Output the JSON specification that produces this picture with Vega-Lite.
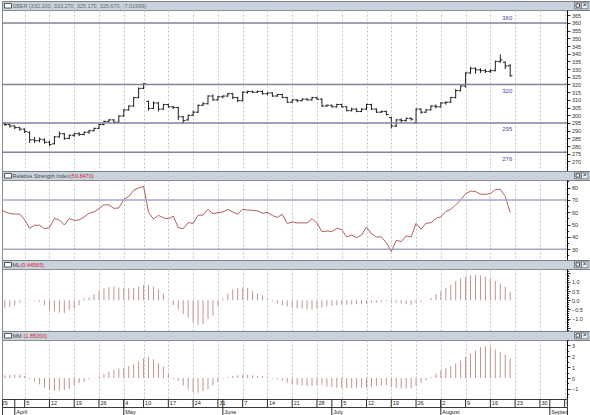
{
"$schema": "https://vega.github.io/schema/vega-lite/v6.json",
"padding": 0,
"background": "white",
"bounds": "flush",
"spacing": 0,
"resolve": {"scale": {"x": "independent", "y": "independent"}},
"config": {"font": "Liberation Sans", "view": {"stroke": null}, "axis": {"labelFont": "Liberation Sans", "labelOverlap": false}},
"datasets": {
"bars": [
{"i":0,"o":295,"h":296,"l":293.5,"c":294.5,"rsi":63,"ml":-0.42,"mm":0.22},
{"i":1,"o":294.5,"h":295.5,"l":293,"c":294,"rsi":60.5,"ml":-0.4,"mm":0.25},
{"i":2,"o":294,"h":294.5,"l":292,"c":293,"rsi":59,"ml":-0.36,"mm":0.28},
{"i":3,"o":293,"h":293.5,"l":291,"c":292,"rsi":58.6,"ml":-0.27,"mm":0.31},
{"i":4,"o":292,"h":292.5,"l":290,"c":291,"rsi":58.5,"ml":-0.13,"mm":0.31},
{"i":5,"o":291,"h":291.5,"l":288.5,"c":289.5,"rsi":54,"ml":-0.02,"mm":0.19},
{"i":6,"o":289,"h":289.5,"l":282,"c":284,"rsi":47,"ml":0.03,"mm":-0.1},
{"i":7,"o":284,"h":286,"l":282,"c":283.5,"rsi":49.5,"ml":-0.05,"mm":-0.34},
{"i":8,"o":283.5,"h":285.5,"l":282.5,"c":284.5,"rsi":49.5,"ml":-0.1,"mm":-0.59},
{"i":9,"o":284,"h":285,"l":281.5,"c":282.5,"rsi":46.7,"ml":-0.27,"mm":-0.9},
{"i":10,"o":282.5,"h":283.5,"l":280,"c":281,"rsi":47.5,"ml":-0.54,"mm":-1.11},
{"i":11,"o":281.5,"h":286.5,"l":281,"c":286,"rsi":55,"ml":-0.63,"mm":-1.2},
{"i":12,"o":286,"h":289.5,"l":285.5,"c":288,"rsi":53.8,"ml":-0.67,"mm":-1.14},
{"i":13,"o":288,"h":288.5,"l":284,"c":285,"rsi":49.7,"ml":-0.7,"mm":-1.11},
{"i":14,"o":285,"h":287.5,"l":284.5,"c":287,"rsi":54.8,"ml":-0.54,"mm":-1.0},
{"i":15,"o":287,"h":288.5,"l":286,"c":288,"rsi":53.5,"ml":-0.45,"mm":-0.65},
{"i":16,"o":288,"h":289,"l":286.5,"c":287.5,"rsi":53.8,"ml":-0.27,"mm":-0.46},
{"i":17,"o":287.5,"h":289.5,"l":287,"c":289,"rsi":56.2,"ml":0.1,"mm":-0.37},
{"i":18,"o":289,"h":290.5,"l":288,"c":290,"rsi":59.2,"ml":0.15,"mm":-0.12},
{"i":19,"o":290,"h":292,"l":289.5,"c":291.5,"rsi":60.3,"ml":0.33,"mm":0.03},
{"i":20,"o":291.5,"h":294.5,"l":291,"c":294,"rsi":63,"ml":0.5,"mm":0.12},
{"i":21,"o":294,"h":296.5,"l":293.5,"c":296,"rsi":66,"ml":0.65,"mm":0.4},
{"i":22,"o":296,"h":297.5,"l":295.5,"c":297,"rsi":66,"ml":0.72,"mm":0.59},
{"i":23,"o":297,"h":297.5,"l":295,"c":295.5,"rsi":63.2,"ml":0.74,"mm":0.74},
{"i":24,"o":295.5,"h":300,"l":295,"c":299.5,"rsi":63.5,"ml":0.69,"mm":0.86},
{"i":25,"o":299.5,"h":304,"l":299,"c":303.5,"rsi":70.5,"ml":0.67,"mm":0.96},
{"i":26,"o":303.5,"h":306.5,"l":303,"c":306,"rsi":72.8,"ml":0.65,"mm":1.11},
{"i":27,"o":306,"h":312,"l":305.5,"c":311.5,"rsi":77.8,"ml":0.69,"mm":1.27},
{"i":28,"o":311.5,"h":318,"l":311,"c":317.5,"rsi":79.7,"ml":0.74,"mm":1.51},
{"i":29,"o":317.5,"h":321,"l":317,"c":320.5,"rsi":81,"ml":0.83,"mm":1.82},
{"i":30,"o":309,"h":309.5,"l":303,"c":304.5,"rsi":60,"ml":0.83,"mm":1.94},
{"i":31,"o":304.5,"h":309,"l":304,"c":308,"rsi":54.5,"ml":0.74,"mm":1.73},
{"i":32,"o":308,"h":308.5,"l":302.5,"c":304,"rsi":57.5,"ml":0.6,"mm":1.36},
{"i":33,"o":304,"h":307.5,"l":303.5,"c":307,"rsi":55.5,"ml":0.36,"mm":1.05},
{"i":34,"o":307,"h":307.5,"l":305,"c":305.5,"rsi":54.8,"ml":0.03,"mm":0.43},
{"i":35,"o":305.5,"h":306,"l":304,"c":305,"rsi":56.8,"ml":-0.27,"mm":-0.12},
{"i":36,"o":305,"h":305.5,"l":297,"c":299,"rsi":47.6,"ml":-0.49,"mm":-0.28},
{"i":37,"o":299,"h":299.5,"l":294.5,"c":296.5,"rsi":46.7,"ml":-0.76,"mm":-0.68},
{"i":38,"o":297,"h":300.5,"l":296.5,"c":300,"rsi":51.6,"ml":-0.94,"mm":-1.05},
{"i":39,"o":300,"h":303,"l":299.5,"c":302,"rsi":51,"ml":-1.21,"mm":-1.3},
{"i":40,"o":302,"h":307,"l":301.5,"c":306.5,"rsi":57.6,"ml":-1.34,"mm":-1.36},
{"i":41,"o":306.5,"h":308.5,"l":306,"c":307.5,"rsi":57.8,"ml":-1.3,"mm":-1.2},
{"i":42,"o":307.5,"h":313,"l":307,"c":312.5,"rsi":62.4,"ml":-1.03,"mm":-1.05},
{"i":43,"o":312.5,"h":313.5,"l":309.5,"c":310,"rsi":58.9,"ml":-0.82,"mm":-0.68},
{"i":44,"o":310,"h":312.5,"l":309.5,"c":312,"rsi":59.7,"ml":-0.31,"mm":-0.37},
{"i":45,"o":312,"h":313,"l":311,"c":312.5,"rsi":60.3,"ml":0.09,"mm":-0.06},
{"i":46,"o":312.5,"h":314.5,"l":312,"c":314,"rsi":62.4,"ml":0.36,"mm":0.09},
{"i":47,"o":314,"h":314.5,"l":310.5,"c":311.5,"rsi":60.3,"ml":0.6,"mm":0.19},
{"i":48,"o":311.5,"h":312,"l":308.5,"c":309.5,"rsi":58.4,"ml":0.67,"mm":0.25},
{"i":49,"o":309.5,"h":315.5,"l":309,"c":315,"rsi":62.4,"ml":0.69,"mm":0.28},
{"i":50,"o":315,"h":316,"l":314,"c":315.5,"rsi":61.8,"ml":0.67,"mm":0.31},
{"i":51,"o":315.5,"h":316,"l":314.5,"c":315,"rsi":61.6,"ml":0.5,"mm":0.25},
{"i":52,"o":315,"h":316,"l":314.5,"c":315.5,"rsi":61.2,"ml":0.36,"mm":0.19},
{"i":53,"o":315.5,"h":316,"l":313.5,"c":314,"rsi":59.2,"ml":0.27,"mm":0.19},
{"i":54,"o":314,"h":315,"l":313,"c":314.5,"rsi":60,"ml":0.1,"mm":0.09},
{"i":55,"o":314.5,"h":315,"l":312,"c":312.5,"rsi":57.4,"ml":-0.05,"mm":-0.04},
{"i":56,"o":312.5,"h":314,"l":312,"c":313.5,"rsi":55.8,"ml":-0.18,"mm":-0.12},
{"i":57,"o":313.5,"h":314,"l":311,"c":311.5,"rsi":58.4,"ml":-0.27,"mm":-0.28},
{"i":58,"o":311.5,"h":312,"l":308,"c":308.5,"rsi":50.8,"ml":-0.34,"mm":-0.43},
{"i":59,"o":308.5,"h":310.5,"l":308,"c":310,"rsi":52.2,"ml":-0.4,"mm":-0.58},
{"i":60,"o":310,"h":310.5,"l":308.5,"c":309.5,"rsi":51.4,"ml":-0.43,"mm":-0.64},
{"i":61,"o":309.5,"h":311,"l":309,"c":310.5,"rsi":51.4,"ml":-0.45,"mm":-0.7},
{"i":62,"o":310.5,"h":311,"l":309.5,"c":310,"rsi":51.4,"ml":-0.49,"mm":-0.73},
{"i":63,"o":310,"h":312,"l":309.5,"c":311.5,"rsi":54.8,"ml":-0.52,"mm":-0.73},
{"i":64,"o":311.5,"h":312,"l":310,"c":310.5,"rsi":51.2,"ml":-0.45,"mm":-0.67},
{"i":65,"o":310.5,"h":311,"l":305.5,"c":306,"rsi":44.3,"ml":-0.4,"mm":-0.64},
{"i":66,"o":306,"h":307,"l":305.5,"c":306.5,"rsi":44.8,"ml":-0.34,"mm":-0.8},
{"i":67,"o":306.5,"h":307,"l":305,"c":305.5,"rsi":44.4,"ml":-0.31,"mm":-0.83},
{"i":68,"o":305.5,"h":307.5,"l":305,"c":307,"rsi":47,"ml":-0.27,"mm":-0.89},
{"i":69,"o":307,"h":307.5,"l":305,"c":305.5,"rsi":46,"ml":-0.25,"mm":-0.95},
{"i":70,"o":305.5,"h":306,"l":302.5,"c":303,"rsi":40,"ml":-0.25,"mm":-0.95},
{"i":71,"o":303,"h":305,"l":302.5,"c":304,"rsi":41.6,"ml":-0.22,"mm":-0.92},
{"i":72,"o":304,"h":304.5,"l":302,"c":302.5,"rsi":39.4,"ml":-0.22,"mm":-0.89},
{"i":73,"o":302.5,"h":304.5,"l":302,"c":304,"rsi":41.6,"ml":-0.22,"mm":-0.89},
{"i":74,"o":304,"h":307.5,"l":303.5,"c":307,"rsi":48,"ml":-0.18,"mm":-0.89},
{"i":75,"o":307,"h":307.5,"l":303.5,"c":304,"rsi":42.7,"ml":-0.13,"mm":-0.83},
{"i":76,"o":304,"h":304.5,"l":301.5,"c":302,"rsi":40,"ml":-0.13,"mm":-0.73},
{"i":77,"o":302,"h":303,"l":301.5,"c":302.5,"rsi":40,"ml":-0.09,"mm":-0.67},
{"i":78,"o":302.5,"h":303,"l":300,"c":300.5,"rsi":35.4,"ml":-0.05,"mm":-0.67},
{"i":79,"o":298.5,"h":299,"l":291.5,"c":293,"rsi":28.1,"ml":-0.09,"mm":-0.83},
{"i":80,"o":293,"h":297.5,"l":292.5,"c":297,"rsi":37.3,"ml":-0.13,"mm":-0.89},
{"i":81,"o":297,"h":298,"l":295.5,"c":296.5,"rsi":36.2,"ml":-0.18,"mm":-0.95},
{"i":82,"o":296.5,"h":298.5,"l":296,"c":298,"rsi":40.8,"ml":-0.22,"mm":-0.98},
{"i":83,"o":298,"h":298.5,"l":296.5,"c":297.5,"rsi":40,"ml":-0.25,"mm":-0.95},
{"i":84,"o":295,"h":304.5,"l":294.5,"c":304,"rsi":51,"ml":-0.16,"mm":-0.73},
{"i":85,"o":304,"h":304.5,"l":301,"c":302,"rsi":46.2,"ml":-0.09,"mm":-0.46},
{"i":86,"o":302,"h":304,"l":301.5,"c":303.5,"rsi":51,"ml":0.02,"mm":-0.21},
{"i":87,"o":303.5,"h":306.5,"l":303,"c":306,"rsi":51.6,"ml":0.13,"mm":0.09},
{"i":88,"o":306,"h":307,"l":304.5,"c":305.5,"rsi":55,"ml":0.33,"mm":0.4},
{"i":89,"o":305.5,"h":308.5,"l":305,"c":308,"rsi":56.4,"ml":0.5,"mm":0.73},
{"i":90,"o":308,"h":309,"l":307,"c":308.5,"rsi":60.6,"ml":0.69,"mm":0.89},
{"i":91,"o":308.5,"h":312,"l":308,"c":311.5,"rsi":62.4,"ml":0.83,"mm":1.1},
{"i":92,"o":311.5,"h":317,"l":311,"c":316,"rsi":66,"ml":1.05,"mm":1.35},
{"i":93,"o":316,"h":319.5,"l":315.5,"c":319,"rsi":70,"ml":1.2,"mm":1.62},
{"i":94,"o":319,"h":328,"l":318,"c":327.5,"rsi":75,"ml":1.29,"mm":1.96},
{"i":95,"o":327.5,"h":331.5,"l":327,"c":330.5,"rsi":77.2,"ml":1.36,"mm":2.26},
{"i":96,"o":330.5,"h":331,"l":327,"c":329.5,"rsi":76.9,"ml":1.38,"mm":2.54},
{"i":97,"o":329.5,"h":330.5,"l":327.5,"c":329,"rsi":74.7,"ml":1.36,"mm":2.84},
{"i":98,"o":329,"h":330,"l":327.5,"c":328.5,"rsi":74.6,"ml":1.29,"mm":2.94},
{"i":99,"o":328.5,"h":330,"l":327.5,"c":329,"rsi":75.2,"ml":1.18,"mm":2.84},
{"i":100,"o":329,"h":335.5,"l":328.5,"c":335,"rsi":78.5,"ml":1.05,"mm":2.63},
{"i":101,"o":335,"h":339.5,"l":334,"c":336,"rsi":78.7,"ml":0.9,"mm":2.42},
{"i":102,"o":334.5,"h":335,"l":330,"c":332,"rsi":73,"ml":0.74,"mm":2.17},
{"i":103,"o":332.2,"h":333.27,"l":325.17,"c":325.67,"rsi":59.85,"ml":0.45,"mm":1.8}
],
"weeks": [
{"i":0,"d":"29"},{"i":5,"d":"5"},{"i":10,"d":"12"},{"i":15,"d":"19"},{"i":20,"d":"26"},{"i":25,"d":"4"},{"i":29,"d":"10"},{"i":34,"d":"17"},{"i":39,"d":"24"},{"i":44,"d":"31"},{"i":49,"d":"7"},{"i":54,"d":"14"},{"i":59,"d":"21"},{"i":64,"d":"28"},{"i":69,"d":"5"},{"i":74,"d":"12"},{"i":79,"d":"19"},{"i":84,"d":"26"},{"i":89,"d":"2"},{"i":94,"d":"9"},{"i":99,"d":"16"},{"i":104,"d":"23"},{"i":109,"d":"30"},{"i":114,"d":"6"}
],
"months": [
{"i":3,"m":"April"},{"i":25,"m":"May"},{"i":45,"m":"June"},{"i":67,"m":"July"},{"i":89,"m":"August"},{"i":111,"m":"September"}
],
"plevels": [{"v":360},{"v":320},{"v":295},{"v":276}],
"rlevels": [{"v":70},{"v":30}]
},
"vconcat": [
{
"width": 590, "height": 9,
"view": {"fill": "#c9d3de", "stroke": "#7b828a"},
"data": {"values": [{"name": "SBER (332.200, 333.270, 325.170, 325.670, -7.01999)"}]},
"layer": [
{"mark": {"type": "rect", "fill": "white", "stroke": "#333", "strokeWidth": 0.8},
 "encoding": {"x": {"datum": 2.5, "scale": {"domain": [0, 590], "nice": false, "zero": false}, "axis": null}, "x2": {"datum": 9.5}, "y": {"datum": 2, "scale": {"domain": [0, 9], "nice": false, "zero": false}, "axis": null}, "y2": {"datum": 6.5}}},
{"mark": {"type": "text", "align": "left", "baseline": "middle", "fontSize": 5.5, "color": "#6b6b6b"},
 "encoding": {"x": {"datum": 10.5}, "y": {"datum": 4.5}, "text": {"field": "name"}}},
{"mark": {"type": "rect", "fill": "#e4e9ee", "stroke": "#5a6068", "strokeWidth": 0.7},
 "encoding": {"x": {"datum": 572.5}, "x2": {"datum": 579}, "y": {"datum": 1.2}, "y2": {"datum": 7.8}}},
{"mark": {"type": "rect", "fill": "#e4e9ee", "stroke": "#5a6068", "strokeWidth": 0.7},
 "encoding": {"x": {"datum": 579.5}, "x2": {"datum": 586}, "y": {"datum": 1.2}, "y2": {"datum": 7.8}}},
{"mark": {"type": "rect", "fill": "white", "stroke": "#222", "strokeWidth": 0.8},
 "encoding": {"x": {"datum": 574}, "x2": {"datum": 577.5}, "y": {"datum": 2.8}, "y2": {"datum": 6.2}}},
{"mark": {"type": "text", "align": "center", "baseline": "middle", "fontSize": 7, "color": "#222"},
 "encoding": {"x": {"datum": 582.75}, "y": {"datum": 4.6}, "text": {"value": "×"}}}
]
},
{
"width": 565, "height": 161,
"view": {"stroke": "#8d8d8d"},
"resolve": {"axis": {"x": "independent", "y": "independent"}},
"layer": [
{"data": {"name": "bars"},
 "mark": {"type": "rule", "color": "#1e1e1e", "strokeWidth": 1, "clip": true},
 "encoding": {
  "x": {"field": "i", "type": "quantitative", "scale": {"domain": [0.42, 114.47], "nice": false, "zero": false},
        "axis": {"orient": "bottom", "values": [5,10,15,20,25,29,34,39,44,49,54,59,64,69,74,79,84,89,94,99,104,109,114], "grid": true, "gridDash": [2,2], "gridColor": "#c6c6c6", "gridWidth": 1, "labels": false, "ticks": false, "domain": false, "title": null}},
  "y": {"field": "l", "type": "quantitative", "scale": {"domain": [263.8, 368.4], "nice": false, "zero": false},
        "axis": {"orient": "right", "values": [270,275,280,285,290,295,300,305,310,315,320,325,330,335,340,345,350,355,360,365], "title": null, "grid": false, "domain": true, "domainColor": "#000", "tickSize": 3, "tickColor": "#333", "labelFontSize": 5.5, "labelColor": "#333", "labelPadding": 1.5, "labelOverlap": false, "labelFlush": false}},
  "y2": {"field": "h"}}},
{"data": {"name": "bars"},
 "mark": {"type": "rule", "color": "#1e1e1e", "strokeWidth": 1, "xOffset": -2.2, "x2Offset": 0, "clip": true},
 "encoding": {"x": {"field": "i", "type": "quantitative", "axis": null}, "x2": {"field": "i"}, "y": {"field": "o", "type": "quantitative", "axis": null}}},
{"data": {"name": "bars"},
 "mark": {"type": "rule", "color": "#1e1e1e", "strokeWidth": 1, "xOffset": 0, "x2Offset": 2.2, "clip": true},
 "encoding": {"x": {"field": "i", "type": "quantitative", "axis": null}, "x2": {"field": "i"}, "y": {"field": "c", "type": "quantitative", "axis": null}}},
{"data": {"name": "plevels"},
 "mark": {"type": "rule", "color": "#8080a2", "strokeWidth": 1.4},
 "encoding": {"y": {"field": "v", "type": "quantitative", "axis": null}}},
{"data": {"name": "plevels"},
 "transform": [{"filter": "datum.v == 360"}],
 "mark": {"type": "text", "baseline": "bottom", "align": "center", "dy": -2, "fontSize": 6, "color": "#4a4a96"},
 "encoding": {"x": {"datum": 102.4, "axis": null}, "y": {"field": "v", "type": "quantitative", "axis": null}, "text": {"field": "v", "type": "quantitative"}}},
{"data": {"name": "plevels"},
 "transform": [{"filter": "datum.v != 360"}],
 "mark": {"type": "text", "baseline": "top", "align": "center", "dy": 3.5, "fontSize": 6, "color": "#4a4a96"},
 "encoding": {"x": {"datum": 102.4, "axis": null}, "y": {"field": "v", "type": "quantitative", "axis": null}, "text": {"field": "v", "type": "quantitative"}}}
]
},
{
"width": 590, "height": 9,
"view": {"fill": "#c9d3de", "stroke": "#7b828a"},
"data": {"values": [{"name": "Relative Strength Index", "val": "(59.8470)"}]},
"layer": [
{"mark": {"type": "rect", "fill": "white", "stroke": "#333", "strokeWidth": 0.8},
 "encoding": {"x": {"datum": 2.5, "scale": {"domain": [0, 590], "nice": false, "zero": false}, "axis": null}, "x2": {"datum": 9.5}, "y": {"datum": 2, "scale": {"domain": [0, 9], "nice": false, "zero": false}, "axis": null}, "y2": {"datum": 6.5}}},
{"mark": {"type": "text", "align": "left", "baseline": "middle", "fontSize": 5.5, "color": "#4a4a4a"},
 "encoding": {"x": {"datum": 10.5}, "y": {"datum": 4.5}, "text": {"field": "name"}}},
{"mark": {"type": "text", "align": "left", "baseline": "middle", "fontSize": 5.5, "color": "#d02a2a"},
 "encoding": {"x": {"datum": 68}, "y": {"datum": 4.5}, "text": {"field": "val"}}},
{"mark": {"type": "rect", "fill": "#e4e9ee", "stroke": "#5a6068", "strokeWidth": 0.7},
 "encoding": {"x": {"datum": 572.5}, "x2": {"datum": 579}, "y": {"datum": 1.2}, "y2": {"datum": 7.8}}},
{"mark": {"type": "rect", "fill": "#e4e9ee", "stroke": "#5a6068", "strokeWidth": 0.7},
 "encoding": {"x": {"datum": 579.5}, "x2": {"datum": 586}, "y": {"datum": 1.2}, "y2": {"datum": 7.8}}},
{"mark": {"type": "rect", "fill": "white", "stroke": "#222", "strokeWidth": 0.8},
 "encoding": {"x": {"datum": 574}, "x2": {"datum": 577.5}, "y": {"datum": 2.8}, "y2": {"datum": 6.2}}},
{"mark": {"type": "text", "align": "center", "baseline": "middle", "fontSize": 7, "color": "#222"},
 "encoding": {"x": {"datum": 582.75}, "y": {"datum": 4.6}, "text": {"value": "×"}}}
]
},
{
"width": 565, "height": 80,
"view": {"stroke": "#8d8d8d"},
"resolve": {"axis": {"x": "independent", "y": "independent"}},
"layer": [
{"data": {"name": "bars"},
 "mark": {"type": "line", "color": "#b35c5c", "strokeWidth": 1, "clip": true},
 "encoding": {
  "x": {"field": "i", "type": "quantitative", "scale": {"domain": [0.42, 114.47], "nice": false, "zero": false},
        "axis": {"orient": "bottom", "values": [5,10,15,20,25,29,34,39,44,49,54,59,64,69,74,79,84,89,94,99,104,109,114], "grid": true, "gridDash": [2,2], "gridColor": "#c6c6c6", "gridWidth": 1, "labels": false, "ticks": false, "domain": false, "title": null}},
  "y": {"field": "rsi", "type": "quantitative", "scale": {"domain": [21.3, 86.2], "nice": false, "zero": false},
        "axis": {"orient": "right", "values": [25,30,35,40,45,50,55,60,65,70,75,80,85], "labelExpr": "datum.value % 10 == 0 ? format(datum.value, 'd') : ''", "title": null, "grid": false, "domain": true, "domainColor": "#000", "tickSize": {"condition": {"test": "datum.value % 10 == 0", "value": 3}, "value": 1.6}, "tickColor": "#333", "labelFontSize": 5.5, "labelColor": "#333", "labelPadding": 1.5, "labelOverlap": false, "labelFlush": false}}}},
{"data": {"name": "rlevels"},
 "mark": {"type": "rule", "color": "#a6a6c6", "strokeWidth": 1.5},
 "encoding": {"y": {"field": "v", "type": "quantitative", "axis": null}}}
]
},
{
"width": 590, "height": 9,
"view": {"fill": "#c9d3de", "stroke": "#7b828a"},
"data": {"values": [{"name": "ML", "val": "(0.44565)"}]},
"layer": [
{"mark": {"type": "rect", "fill": "white", "stroke": "#333", "strokeWidth": 0.8},
 "encoding": {"x": {"datum": 2.5, "scale": {"domain": [0, 590], "nice": false, "zero": false}, "axis": null}, "x2": {"datum": 9.5}, "y": {"datum": 2, "scale": {"domain": [0, 9], "nice": false, "zero": false}, "axis": null}, "y2": {"datum": 6.5}}},
{"mark": {"type": "text", "align": "left", "baseline": "middle", "fontSize": 5.5, "color": "#4a4a4a"},
 "encoding": {"x": {"datum": 10.5}, "y": {"datum": 4.5}, "text": {"field": "name"}}},
{"mark": {"type": "text", "align": "left", "baseline": "middle", "fontSize": 5.5, "color": "#d02a2a"},
 "encoding": {"x": {"datum": 18.5}, "y": {"datum": 4.5}, "text": {"field": "val"}}},
{"mark": {"type": "rect", "fill": "#e4e9ee", "stroke": "#5a6068", "strokeWidth": 0.7},
 "encoding": {"x": {"datum": 572.5}, "x2": {"datum": 579}, "y": {"datum": 1.2}, "y2": {"datum": 7.8}}},
{"mark": {"type": "rect", "fill": "#e4e9ee", "stroke": "#5a6068", "strokeWidth": 0.7},
 "encoding": {"x": {"datum": 579.5}, "x2": {"datum": 586}, "y": {"datum": 1.2}, "y2": {"datum": 7.8}}},
{"mark": {"type": "rect", "fill": "white", "stroke": "#222", "strokeWidth": 0.8},
 "encoding": {"x": {"datum": 574}, "x2": {"datum": 577.5}, "y": {"datum": 2.8}, "y2": {"datum": 6.2}}},
{"mark": {"type": "text", "align": "center", "baseline": "middle", "fontSize": 7, "color": "#222"},
 "encoding": {"x": {"datum": 582.75}, "y": {"datum": 4.6}, "text": {"value": "×"}}}
]
},
{
"width": 565, "height": 62,
"view": {"stroke": "#8d8d8d"},
"data": {"name": "bars"},
"mark": {"type": "rule", "color": "#c69292", "strokeWidth": 1, "clip": true},
"encoding": {
 "x": {"field": "i", "type": "quantitative", "scale": {"domain": [0.42, 114.47], "nice": false, "zero": false},
       "axis": {"orient": "bottom", "values": [5,10,15,20,25,29,34,39,44,49,54,59,64,69,74,79,84,89,94,99,104,109,114], "grid": true, "gridDash": [2,2], "gridColor": "#c6c6c6", "gridWidth": 1, "labels": false, "ticks": false, "domain": false, "title": null}},
 "y": {"field": "ml", "type": "quantitative", "scale": {"domain": [-1.673, 1.706], "nice": false, "zero": false},
       "axis": {"orient": "right", "values": [-1.6,-1.5,-1.4,-1.3,-1.2,-1.1,-1.0,-0.9,-0.8,-0.7,-0.6,-0.5,-0.4,-0.3,-0.2,-0.1,0,0.1,0.2,0.3,0.4,0.5,0.6,0.7,0.8,0.9,1.0,1.1,1.2,1.3,1.4,1.5,1.6],
       "labelExpr": "abs(datum.value*2 - round(datum.value*2)) < 0.001 && abs(datum.value) < 1.01 ? format(datum.value, '.1f') : ''",
       "title": null, "grid": false, "domain": true, "domainColor": "#000",
       "tickSize": {"condition": {"test": "abs(datum.value*2 - round(datum.value*2)) < 0.001", "value": 3}, "value": 1.6},
       "tickColor": "#333", "labelFontSize": 5.5, "labelColor": "#333", "labelPadding": 1.5, "labelOverlap": false, "labelFlush": false}},
 "y2": {"datum": 0}}
},
{
"width": 590, "height": 9,
"view": {"fill": "#c9d3de", "stroke": "#7b828a"},
"data": {"values": [{"name": "MM", "val": "(1.85200)"}]},
"layer": [
{"mark": {"type": "rect", "fill": "white", "stroke": "#333", "strokeWidth": 0.8},
 "encoding": {"x": {"datum": 2.5, "scale": {"domain": [0, 590], "nice": false, "zero": false}, "axis": null}, "x2": {"datum": 9.5}, "y": {"datum": 2, "scale": {"domain": [0, 9], "nice": false, "zero": false}, "axis": null}, "y2": {"datum": 6.5}}},
{"mark": {"type": "text", "align": "left", "baseline": "middle", "fontSize": 5.5, "color": "#4a4a4a"},
 "encoding": {"x": {"datum": 10.5}, "y": {"datum": 4.5}, "text": {"field": "name"}}},
{"mark": {"type": "text", "align": "left", "baseline": "middle", "fontSize": 5.5, "color": "#d02a2a"},
 "encoding": {"x": {"datum": 21.5}, "y": {"datum": 4.5}, "text": {"field": "val"}}},
{"mark": {"type": "rect", "fill": "#e4e9ee", "stroke": "#5a6068", "strokeWidth": 0.7},
 "encoding": {"x": {"datum": 572.5}, "x2": {"datum": 579}, "y": {"datum": 1.2}, "y2": {"datum": 7.8}}},
{"mark": {"type": "rect", "fill": "#e4e9ee", "stroke": "#5a6068", "strokeWidth": 0.7},
 "encoding": {"x": {"datum": 579.5}, "x2": {"datum": 586}, "y": {"datum": 1.2}, "y2": {"datum": 7.8}}},
{"mark": {"type": "rect", "fill": "white", "stroke": "#222", "strokeWidth": 0.8},
 "encoding": {"x": {"datum": 574}, "x2": {"datum": 577.5}, "y": {"datum": 2.8}, "y2": {"datum": 6.2}}},
{"mark": {"type": "text", "align": "center", "baseline": "middle", "fontSize": 7, "color": "#222"},
 "encoding": {"x": {"datum": 582.75}, "y": {"datum": 4.6}, "text": {"value": "×"}}}
]
},
{
"width": 565, "height": 59,
"view": {"stroke": "#8d8d8d"},
"data": {"name": "bars"},
"mark": {"type": "rule", "color": "#c69292", "strokeWidth": 1, "clip": true},
"encoding": {
 "x": {"field": "i", "type": "quantitative", "scale": {"domain": [0.42, 114.47], "nice": false, "zero": false},
       "axis": {"orient": "bottom", "values": [5,10,15,20,25,29,34,39,44,49,54,59,64,69,74,79,84,89,94,99,104,109,114], "grid": true, "gridDash": [2,2], "gridColor": "#c6c6c6", "gridWidth": 1, "labels": false, "ticks": false, "domain": false, "title": null}},
 "y": {"field": "mm", "type": "quantitative", "scale": {"domain": [-1.935, 3.502], "nice": false, "zero": false},
       "axis": {"orient": "right", "values": [-1.5,-1,-0.5,0,0.5,1,1.5,2,2.5,3,3.5],
       "labelExpr": "datum.value == round(datum.value) && datum.value >= -1 ? format(datum.value, 'd') : ''",
       "title": null, "grid": false, "domain": true, "domainColor": "#000",
       "tickSize": {"condition": {"test": "datum.value == round(datum.value)", "value": 3}, "value": 1.6},
       "tickColor": "#333", "labelFontSize": 5.5, "labelColor": "#333", "labelPadding": 1.5, "labelOverlap": false, "labelFlush": false}},
 "y2": {"datum": 0}}
},
{
"width": 565, "height": 8,
"view": {"stroke": "#3a3a3a", "fill": "white"},
"layer": [
{"data": {"name": "weeks"},
 "mark": {"type": "rule", "color": "#2a2a2a", "strokeWidth": 1, "clip": true},
 "encoding": {"x": {"field": "i", "type": "quantitative", "scale": {"domain": [0.42, 114.47], "nice": false, "zero": false}, "axis": null}}},
{"data": {"name": "months"},
 "mark": {"type": "rule", "color": "#2a2a2a", "strokeWidth": 1, "clip": true},
 "encoding": {"x": {"field": "i", "type": "quantitative"}}},
{"data": {"name": "weeks"},
 "mark": {"type": "text", "align": "left", "baseline": "middle", "dx": 1.5, "fontSize": 5.5, "color": "#222", "clip": true},
 "encoding": {"x": {"field": "i", "type": "quantitative"}, "text": {"field": "d"}}}
]
},
{
"width": 565, "height": 9,
"view": {"stroke": "#3a3a3a", "fill": "white"},
"layer": [
{"data": {"name": "months"},
 "mark": {"type": "rule", "color": "#2a2a2a", "strokeWidth": 1, "clip": true},
 "encoding": {"x": {"field": "i", "type": "quantitative", "scale": {"domain": [0.42, 114.47], "nice": false, "zero": false}, "axis": null}}},
{"data": {"name": "months"},
 "mark": {"type": "text", "align": "left", "baseline": "middle", "dx": 1.5, "fontSize": 5.5, "color": "#222", "clip": true},
 "encoding": {"x": {"field": "i", "type": "quantitative"}, "text": {"field": "m"}}}
]
}
]
}
